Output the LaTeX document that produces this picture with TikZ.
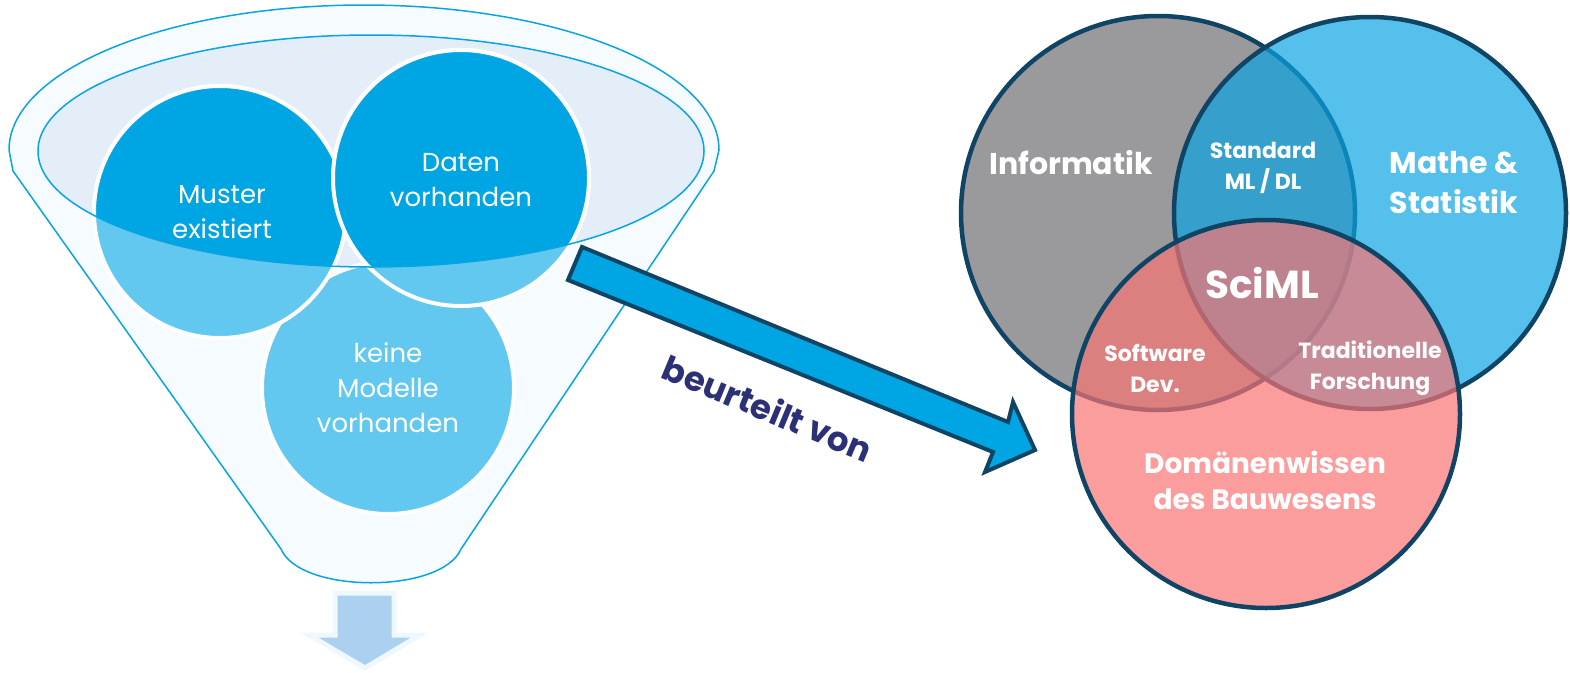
\documentclass[tikz,border=0pt]{standalone}
\usepackage{fontspec}
\setmainfont{Poppins}
\usetikzlibrary{shapes.geometric}

\definecolor{funnelline}{HTML}{0AA4E3}
\definecolor{funnelbg}{HTML}{F5FBFE}
\definecolor{rimbg}{HTML}{E3EEF9}
\definecolor{balldark}{HTML}{00A5E3}
\definecolor{balllight}{HTML}{62C8EF}
\definecolor{downfill}{HTML}{ABD0F0}
\definecolor{glow}{HTML}{EEF8FE}
\definecolor{navy}{HTML}{0F4464}
\definecolor{labelnavy}{HTML}{2C3175}
\definecolor{arrowblue}{HTML}{00A5E3}
\definecolor{vgray}{HTML}{9A9A9C}
\definecolor{vblue}{HTML}{0AA4E3}
\definecolor{vred}{HTML}{F97474}

\tikzset{
  ball/.style={circle, inner sep=0pt, draw=white, line width=4pt},
  balltext/.style={text=white, align=center, font=\fontsize{26}{35}\selectfont},
  vcircle/.style={circle, inner sep=0pt, draw=navy, line width=4.5pt},
  vbig/.style={text=white, align=center, font=\bfseries\fontsize{30}{40}\selectfont},
  vsmall/.style={text=white, align=center, font=\bfseries\fontsize{22}{31}\selectfont},
}

\begin{document}
\begin{tikzpicture}[x=1pt, y=1pt]
\useasboundingbox (0,0) rectangle (1570,-672);

% ---------- funnel ----------
\draw[funnelline, fill=funnelbg, line width=1.5pt, line join=round]
  (13,-171) -- (281,-549) .. controls (300,-594) and (442,-594) .. (461,-549)
  -- (714,-171) -- (719,-150)
  arc[start angle=0, end angle=180, x radius=355, y radius=145] -- cycle;

% rim surface
\fill[rimbg] (371,-151) ellipse[x radius=333, y radius=116];

% balls below the rim surface (light)
\node[ball, fill=balllight, minimum size=252pt] (modelle) at (388,-388) {};
\node[ball, fill=balllight, minimum size=252pt] (muster) at (220,-212) {};
\node[ball, fill=balllight, minimum size=256pt] (daten) at (461,-178) {};

% balls inside the rim surface (dark)
\begin{scope}
  \clip (371,-151) ellipse[x radius=333, y radius=116];
  \fill[balldark, draw=white, line width=4pt] (modelle.center) circle[radius=126];
  \fill[balldark, draw=white, line width=4pt] (muster.center) circle[radius=126];
  \fill[balldark, draw=white, line width=4pt] (daten.center) circle[radius=128];
\end{scope}

% rim outline
\draw[funnelline, line width=1.5pt] (371,-151) ellipse[x radius=333, y radius=116];

\node[balltext] (mustertext) at (222,-212) {Muster\\existiert};
\node[balltext] (datentext) at (461,-180) {Daten\\vorhanden};
\node[balltext] (modelletext) at (388,-388) {keine\\Modelle\\vorhanden};

% outlet arrow
\draw[glow, fill=downfill, line width=5pt, line join=miter]
  (335,-593) -- (394,-593) -- (394,-635) -- (420,-635) -- (365,-668)
  -- (309,-635) -- (335,-635) -- cycle;

% ---------- block arrow ----------
\draw[navy, fill=arrowblue, line width=4pt, line join=miter]
  (582,-247) -- (1008,-422) -- (1013,-402) -- (1035,-450) -- (985,-472)
  -- (993,-452) -- (568,-280) -- cycle;
\node[rotate=-22.5, text=labelnavy, font=\bfseries\fontsize{34}{40}\selectfont]
  (judgelabel) at (768,-408) {beurteilt von};

% ---------- Venn diagram ----------
\node[vcircle, fill=vgray, minimum size=394pt] (informatik) at (1158,-213) {};
\node[vcircle, fill=vblue, fill opacity=0.69, minimum size=392pt] (mathe) at (1370,-213) {};
\node[vcircle, fill=vred, fill opacity=0.7, minimum size=388pt] (domaene) at (1266,-414) {};

\node[vbig] (informatiktext) at (1071,-163) {Informatik};
\node[vbig] (mathetext) at (1454,-183) {Mathe \&\\Statistik};
\node[vsmall] (standardtext) at (1263,-168) {Standard\\ML / DL};
\node[vbig, font=\bfseries\fontsize{39}{44}\selectfont] (scimltext) at (1262,-283) {SciML};
\node[vsmall] (softwaretext) at (1155,-368) {Software\\Dev.};
\node[vsmall] (forschungtext) at (1370,-368) {Traditionelle\\Forschung};
\node[vbig, font=\bfseries\fontsize{28}{36}\selectfont] (domaenetext) at (1265,-480) {Domänenwissen\\des Bauwesens};
\end{tikzpicture}
\end{document}
